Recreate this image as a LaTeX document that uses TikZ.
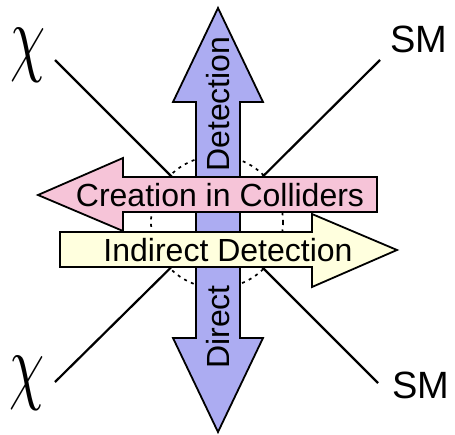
\documentclass[tikz,border=0pt]{standalone}
\usepackage{fontspec}
\setmainfont{Liberation Sans}
\definecolor{arrblue}{RGB}{172,172,242}
\definecolor{arrpink}{RGB}{246,196,216}
\definecolor{arryellow}{RGB}{255,255,222}
\tikzset{
  arrowshape/.style={draw=black, line width=1.8pt, line join=miter},
  feynline/.style={draw=black, line width=2.2pt},
  dotcircle/.style={draw=black, line width=1.7pt, dash pattern=on 3pt off 4.5pt},
  lbl/.style={inner sep=0pt, font=\fontsize{32}{32}\selectfont},
  smlbl/.style={inner sep=0pt, font=\fontsize{38}{38}\selectfont},
  chilbl/.style={inner sep=0pt}
}
\begin{document}
\begin{tikzpicture}[x=1pt,y=-1pt]
\useasboundingbox (0,0) rectangle (455,434);
\fill[white] (0,0) rectangle (455,434);
% centre and line ends
\coordinate (c) at (217,222);
\coordinate (tl) at (55,60);
\coordinate (tr) at (380,60);
\coordinate (bl) at (55,382);
\coordinate (br) at (378,383);
\draw[feynline] (tl) -- (c);
\draw[feynline] (tr) -- (c);
\draw[feynline] (bl) -- (c);
\draw[feynline] (br) -- (c);
\draw[dotcircle] (c) circle[radius=66];
% vertical double arrow
\draw[arrowshape, fill=arrblue] (218,8) -- (263,102) -- (240,102) -- (240,338) -- (263,338)
  -- (218,432) -- (173,338) -- (196,338) -- (196,102) -- (173,102) -- cycle;
% pink arrow (left)
\draw[arrowshape, fill=arrpink] (38,195) -- (123,158) -- (123,177) -- (377,177) -- (377,212)
  -- (123,212) -- (123,231) -- cycle;
% yellow arrow (right)
\draw[arrowshape, fill=arryellow] (397,250) -- (312,214) -- (312,232) -- (60,232) -- (60,267)
  -- (312,267) -- (312,287) -- cycle;
% labels
\node[lbl, rotate=90] (det) at (218,104) {Detection};
\node[lbl, rotate=90] (dir) at (218,327) {Direct};
\node[lbl] (coll) at (220,195) {Creation in Colliders};
\node[lbl] (ind) at (228,250) {Indirect Detection};
\node[smlbl] (sm1) at (419,39) {SM};
\node[smlbl] (sm2) at (421,385) {SM};
\node[chilbl] (chi1) at (28,55) {\scalebox{5.6}[8.6]{$\chi$}};
\node[chilbl] (chi2) at (27,383) {\scalebox{5.6}[8.6]{$\chi$}};
\end{tikzpicture}
\end{document}
